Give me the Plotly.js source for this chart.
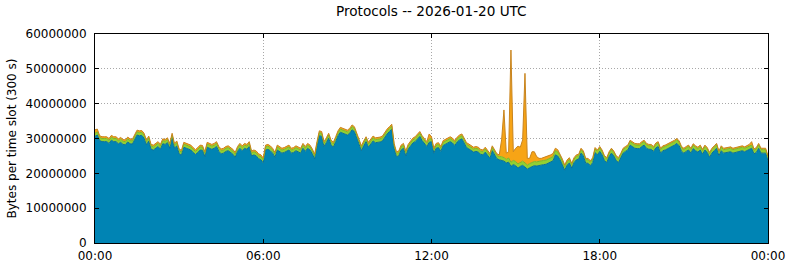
<!DOCTYPE html>
<html>
<head>
<meta charset="utf-8">
<script src="https://cdn.plot.ly/plotly-3.0.1.min.js"></script>
<style>
html,body{margin:0;padding:0;background:#fff;}
#chart{width:790px;height:267px;}
</style>
</head>
<body>
<div id="chart"></div>
<script>
// Values in millions of bytes per 300 s slot, one row per hour (12 slots), plus the 24:00 point
const blueM = [
  30.6, 31.0, 29.4, 29.1, 29.1, 29.1, 28.6, 29.5, 29.1, 29.1, 28.5, 28.9,
  28.3, 28.2, 29.0, 28.5, 28.4, 29.8, 31.0, 30.8, 30.9, 30.1, 28.2, 29.3,
  26.9, 26.7, 27.3, 27.7, 26.9, 28.5, 28.3, 28.8, 27.2, 30.1, 27.2, 27.9,
  25.6, 25.2, 27.5, 27.2, 27.1, 26.7, 26.0, 25.4, 26.0, 26.7, 26.6, 24.8,
  27.5, 27.3, 26.9, 27.2, 27.7, 26.3, 25.6, 25.8, 26.3, 26.5, 26.1, 25.5,
  24.6, 26.3, 27.2, 26.5, 27.2, 26.9, 27.7, 25.0, 25.3, 25.0, 24.2, 23.9,
  23.0, 26.7, 26.9, 26.5, 25.8, 24.6, 26.7, 26.3, 25.8, 26.0, 26.3, 26.7,
  25.8, 26.0, 26.5, 26.2, 25.8, 27.2, 26.3, 27.2, 26.7, 25.6, 24.1, 27.7,
  30.8, 30.6, 27.7, 28.8, 30.1, 28.2, 27.5, 29.1, 30.8, 31.8, 31.5, 31.3,
  31.0, 31.5, 32.5, 32.0, 30.1, 27.9, 26.5, 27.9, 29.1, 27.5, 28.5, 29.3,
  28.8, 28.8, 29.0, 29.3, 30.4, 31.3, 32.0, 32.7, 27.2, 24.8, 25.0, 26.7,
  27.2, 25.0, 26.9, 27.9, 28.7, 29.1, 29.8, 30.6, 29.4, 28.5, 27.7, 28.9,
  29.1, 25.8, 27.2, 27.4, 26.3, 28.0, 28.4, 28.7, 29.1, 28.7, 28.0, 29.0,
  29.6, 29.9, 28.4, 27.4, 27.0, 26.5, 26.1, 26.3, 26.1, 25.5, 25.3, 26.1,
  25.3, 24.3, 26.5, 25.3, 24.2, 23.9, 23.8, 23.5, 23.0, 23.2, 22.0, 22.5,
  22.2, 21.5, 22.0, 22.3, 21.8, 21.2, 21.6, 22.0, 22.2, 22.1, 22.3, 22.3,
  22.5, 22.6, 22.9, 23.2, 23.6, 25.3, 25.0, 23.9, 22.6, 20.9, 22.3, 23.0,
  21.5, 23.1, 23.9, 24.1, 25.8, 25.0, 22.9, 22.9, 22.2, 23.1, 26.0, 25.3,
  26.3, 25.3, 23.7, 23.1, 24.8, 25.8, 25.0, 23.7, 23.1, 24.3, 25.8, 26.3,
  26.7, 28.1, 27.7, 27.2, 27.1, 27.1, 27.7, 28.1, 27.2, 26.9, 26.9, 26.3,
  27.3, 27.7, 25.8, 26.5, 26.7, 27.0, 27.4, 27.7, 28.1, 28.6, 27.9, 26.3,
  25.8, 26.3, 26.7, 25.8, 27.1, 26.5, 26.1, 26.7, 25.5, 26.7, 26.0, 24.6,
  25.8, 26.5, 27.2, 25.0, 26.5, 25.8, 26.0, 26.2, 26.2, 25.8, 26.0, 26.2,
  26.3, 26.5, 26.2, 26.5, 26.9, 27.2, 25.6, 26.0, 27.2, 25.8, 25.8, 25.8,
  23.6
];
const greenM = [
  0.9, 0.9, 0.9, 0.9, 0.9, 0.9, 0.9, 0.9, 0.9, 0.9, 0.9, 0.9,
  0.9, 0.9, 0.9, 0.9, 0.9, 0.9, 0.9, 0.9, 0.9, 0.9, 0.9, 0.9,
  0.9, 0.9, 0.9, 0.9, 0.9, 0.9, 0.9, 0.9, 0.9, 0.9, 0.9, 0.9,
  0.9, 0.9, 0.9, 0.9, 0.9, 0.9, 0.9, 0.9, 0.9, 0.9, 0.9, 0.9,
  0.9, 0.9, 0.9, 0.9, 0.9, 0.9, 0.9, 0.9, 0.9, 0.9, 0.9, 0.9,
  0.9, 0.9, 0.9, 0.9, 0.9, 0.9, 0.9, 0.9, 0.9, 0.9, 0.9, 0.9,
  0.9, 0.9, 0.9, 0.9, 0.9, 0.9, 0.9, 0.9, 0.9, 0.9, 0.9, 0.9,
  0.9, 0.9, 0.9, 0.9, 0.9, 0.9, 0.9, 0.9, 0.9, 0.9, 0.9, 0.9,
  0.9, 0.9, 0.9, 0.9, 0.9, 0.9, 0.9, 0.9, 0.9, 0.9, 0.9, 0.9,
  0.9, 0.9, 0.9, 0.9, 0.9, 0.9, 0.9, 0.9, 0.9, 0.9, 0.9, 0.9,
  0.9, 0.9, 0.9, 0.9, 0.9, 0.9, 0.9, 0.9, 0.9, 0.9, 0.9, 0.9,
  0.9, 0.9, 0.9, 0.9, 0.9, 0.9, 0.9, 0.9, 0.9, 0.9, 0.9, 0.9,
  0.9, 0.9, 0.9, 0.9, 0.9, 0.9, 0.9, 0.9, 0.9, 0.9, 0.9, 0.9,
  0.9, 0.9, 0.9, 0.9, 0.9, 0.9, 0.9, 0.9, 0.9, 0.9, 0.9, 0.9,
  0.9, 0.9, 0.9, 0.9, 0.9, 0.9, 1.0, 1.0, 1.0, 1.2, 1.2, 1.2,
  1.2, 1.2, 1.2, 1.2, 1.2, 1.2, 1.2, 1.2, 1.2, 1.2, 1.2, 1.2,
  1.2, 1.2, 1.2, 1.2, 1.2, 1.2, 1.2, 1.1, 1.0, 1.0, 1.0, 1.0,
  1.0, 1.0, 1.0, 1.0, 1.0, 1.0, 1.0, 1.0, 1.0, 1.0, 1.0, 1.0,
  1.0, 1.0, 1.0, 1.0, 1.0, 1.0, 1.0, 1.0, 1.0, 1.0, 1.0, 1.0,
  1.0, 1.0, 1.0, 1.0, 1.0, 1.0, 1.0, 1.0, 1.0, 1.0, 1.0, 1.0,
  1.0, 1.0, 1.0, 1.0, 1.0, 1.0, 1.0, 1.0, 1.0, 1.0, 1.0, 1.0,
  1.0, 1.0, 1.0, 1.0, 1.0, 1.0, 1.0, 1.0, 1.0, 1.0, 1.0, 1.0,
  1.0, 1.0, 1.0, 1.0, 1.0, 1.0, 1.0, 1.0, 1.0, 1.0, 1.0, 1.0,
  1.0, 1.0, 1.0, 1.0, 1.0, 0.9, 1.0, 1.0, 1.0, 1.0, 1.0, 1.0,
  1.0
];
const orangeM = [
  1.0, 0.8, 0.5, 0.5, 0.5, 0.5, 0.5, 0.5, 0.5, 0.5, 0.5, 0.5,
  0.5, 0.5, 0.5, 0.5, 0.5, 0.5, 0.5, 0.5, 0.5, 0.5, 0.5, 0.5,
  0.5, 0.5, 0.5, 0.5, 0.5, 0.5, 0.5, 0.5, 0.5, 0.5, 0.5, 0.5,
  0.5, 0.5, 0.5, 0.5, 0.5, 0.5, 0.5, 0.5, 0.5, 0.5, 0.5, 0.5,
  0.5, 0.5, 0.5, 0.5, 0.5, 0.5, 0.5, 0.5, 0.5, 0.5, 0.5, 0.5,
  0.5, 0.5, 0.5, 0.5, 0.5, 0.5, 0.5, 0.5, 0.5, 0.5, 0.5, 0.5,
  0.5, 0.5, 0.5, 0.5, 0.5, 0.5, 0.5, 0.5, 0.5, 0.5, 0.5, 0.5,
  0.5, 0.5, 0.5, 0.5, 0.5, 0.5, 0.5, 0.5, 0.5, 0.5, 0.5, 0.5,
  0.5, 0.5, 0.5, 0.5, 0.5, 0.5, 0.5, 0.5, 0.5, 0.5, 0.5, 0.5,
  0.5, 0.5, 0.5, 0.5, 0.5, 0.5, 0.5, 0.5, 0.5, 0.5, 0.5, 0.5,
  0.5, 0.5, 0.5, 0.5, 0.5, 0.5, 0.5, 0.5, 0.5, 0.5, 0.5, 0.5,
  0.5, 0.5, 0.5, 0.5, 0.5, 0.5, 0.5, 0.5, 0.5, 0.5, 0.5, 1.5,
  0.5, 0.5, 0.5, 0.5, 0.5, 0.5, 0.5, 0.5, 0.5, 0.5, 0.5, 0.5,
  0.5, 0.5, 0.5, 0.5, 0.5, 0.5, 0.5, 0.5, 0.5, 0.5, 0.5, 0.5,
  0.5, 0.5, 0.5, 0.5, 0.5, 0.5, 4.8, 13.7, 1.8, 1.8, 32.2, 2.5,
  3.8, 5.1, 4.3, 6.1, 25.7, 1.9, 1.5, 3.0, 2.8, 1.5, 0.8, 0.8,
  0.8, 0.9, 0.9, 0.9, 0.9, 0.7, 0.6, 0.5, 0.5, 0.5, 0.5, 0.5,
  0.4, 0.4, 0.4, 0.4, 0.4, 0.4, 0.4, 0.4, 0.4, 0.4, 0.4, 0.4,
  0.4, 0.4, 0.4, 0.4, 0.4, 0.4, 0.4, 0.4, 0.4, 0.4, 0.4, 0.4,
  0.4, 0.4, 0.4, 0.4, 0.4, 0.4, 0.4, 0.4, 0.4, 0.4, 0.4, 0.4,
  0.4, 0.4, 0.4, 0.4, 0.4, 0.4, 0.4, 0.4, 0.4, 0.4, 0.4, 0.4,
  0.4, 0.4, 0.4, 0.4, 0.4, 0.4, 0.4, 0.4, 0.4, 0.4, 0.4, 0.4,
  0.4, 0.4, 0.4, 0.4, 0.4, 0.4, 0.4, 0.4, 0.4, 0.4, 0.4, 0.4,
  0.4, 0.4, 0.4, 0.4, 0.4, 1.0, 0.4, 0.4, 0.4, 0.4, 0.4, 0.4,
  0.4
];
const xTickVals = ['2026-01-20 00:00', '2026-01-20 06:00', '2026-01-20 12:00', '2026-01-20 18:00', '2026-01-21 00:00'];
const xTickText = ['00:00', '06:00', '12:00', '18:00', '00:00'];
const yTickVals = [0, 10000000, 20000000, 30000000, 40000000, 50000000, 60000000];
const yTickText = ['0', '10000000', '20000000', '30000000', '40000000', '50000000', '60000000'];

// 5-minute time slots for the day
const startMs = Date.UTC(2026, 0, 20, 0, 0, 0);
function pad(n){ return (n < 10 ? '0' : '') + n; }
const times = blueM.map((_, i) => {
  const d = new Date(startMs + i * 300000);
  return d.getUTCFullYear() + '-' + pad(d.getUTCMonth() + 1) + '-' + pad(d.getUTCDate()) + ' ' + pad(d.getUTCHours()) + ':' + pad(d.getUTCMinutes());
});
const toBytes = a => a.map(v => v * 1e6);

const traces = [
  {x: times, y: toBytes(blueM), name: 'TCP', stackgroup: 'one', mode: 'lines',
   line: {color: '#0a6f98', width: 1}, fillcolor: '#0084b4', hoverinfo: 'skip'},
  {x: times, y: toBytes(greenM), name: 'UDP', stackgroup: 'one', mode: 'lines',
   line: {color: '#7ab62a', width: 1}, fillcolor: '#92d032', hoverinfo: 'skip'},
  {x: times, y: toBytes(orangeM), name: 'ICMP', stackgroup: 'one', mode: 'lines',
   line: {color: '#c8841e', width: 1}, fillcolor: '#f7a416', hoverinfo: 'skip'}
];

const fontFam = 'DejaVu Sans, sans-serif';
const layout = {
  width: 790, height: 267,
  margin: {l: 95, r: 22, t: 34, b: 24, pad: 0},
  paper_bgcolor: '#ffffff', plot_bgcolor: '#ffffff',
  showlegend: false,
  font: {family: fontFam, size: 12, color: '#000'},
  title: {text: 'Protocols -- 2026-01-20 UTC', font: {family: fontFam, size: 13.6, color: '#000'},
          x: 0.546, xanchor: 'center', y: 0.958, yanchor: 'middle'},
  xaxis: {
    type: 'date', range: ['2026-01-20 00:00', '2026-01-21 00:00'],
    tickmode: 'array', tickvals: xTickVals, ticktext: xTickText,
    ticks: 'inside', ticklen: 4, tickcolor: '#000', mirror: 'ticks',
    showline: true, linecolor: '#000', linewidth: 1,
    showgrid: true, gridcolor: '#a8a8a8', griddash: '1px,2px', gridwidth: 1,
    zeroline: false, tickfont: {family: fontFam, size: 12, color: '#000'},
    ticklabelstandoff: 2,
    fixedrange: true
  },
  yaxis: {
    range: [0, 60000000],
    tickmode: 'array', tickvals: yTickVals, ticktext: yTickText,
    ticks: 'inside', ticklen: 4, tickcolor: '#000', mirror: 'ticks',
    showline: true, linecolor: '#000', linewidth: 1,
    showgrid: true, gridcolor: '#a8a8a8', griddash: '1px,2px', gridwidth: 1,
    zeroline: false, tickfont: {family: fontFam, size: 12, color: '#000'},
    ticklabelstandoff: 5,
    title: {text: 'Bytes per time slot (300 s)', font: {family: fontFam, size: 12, color: '#000'}, standoff: 6},
    fixedrange: true
  }
};

Plotly.newPlot('chart', traces, layout, {staticPlot: true, displayModeBar: false});
</script>
</body>
</html>
